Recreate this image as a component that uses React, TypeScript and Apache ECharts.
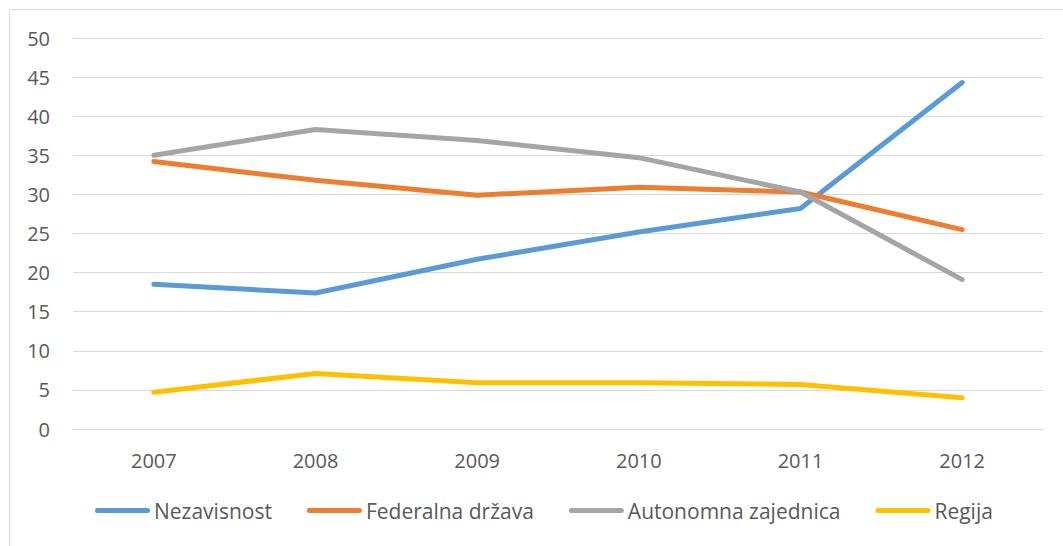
import React, { useEffect, useRef } from "react";
import * as echarts from "echarts";

const years = ["2007", "2008", "2009", "2010", "2011", "2012"];
const nezavisnost = [18.5, 17.4, 21.7, 25.2, 28.2, 44.3];
const federalna = [34.2, 31.8, 29.9, 30.9, 30.3, 25.5];
const autonomna = [35.0, 38.3, 36.9, 34.7, 30.3, 19.1];
const regija = [4.7, 7.1, 5.9, 5.9, 5.7, 4.0];

const seriesNames = ["Nezavisnost", "Federalna država", "Autonomna zajednica", "Regija"];
const colors = ["#5B9BD5", "#ED7D31", "#A5A5A5", "#FFC000"];

const legendIcon =
  "path://M2.5,0 H52.5 A2.5,2.5 0 0 1 52.5,5 H2.5 A2.5,2.5 0 0 1 2.5,0 Z";

export default function App() {
  const ref = useRef<HTMLDivElement>(null);
  useEffect(() => {
    if (!ref.current) return;
    const chart = echarts.init(ref.current, undefined, { renderer: "svg" });
    const font = "'Open Sans', 'Noto Sans', sans-serif";
    const data = [nezavisnost, federalna, autonomna, regija];
    chart.setOption({
      animation: false,
      backgroundColor: "#ffffff",
      textStyle: { fontFamily: font },
      graphic: [
        {
          type: "rect",
          shape: { x: 9.5, y: 9.5, width: 1100, height: 600 },
          style: { fill: "none", stroke: "#D9D9D9", lineWidth: 1 },
          silent: true,
        },
      ],
      grid: { left: 73, right: 20, top: 38, bottom: 117 },
      legend: {
        bottom: 20,
        left: 90,
        itemWidth: 55,
        itemHeight: 5,
        itemGap: 35,
        icon: legendIcon,
        textStyle: { color: "#595959", fontSize: 21, fontFamily: font, padding: [0, 0, 0, -1] },
        data: seriesNames,
      },
      xAxis: {
        type: "category",
        data: years,
        boundaryGap: true,
        axisLine: { show: true, lineStyle: { color: "#D9D9D9", width: 1 } },
        axisTick: { show: false },
        axisLabel: { color: "#595959", fontSize: 20, margin: 21, fontFamily: font },
        splitLine: { show: false },
      },
      yAxis: {
        type: "value",
        min: 0,
        max: 50,
        interval: 5,
        axisLine: { show: false },
        axisTick: { show: false },
        axisLabel: { color: "#595959", fontSize: 20, margin: 23, fontFamily: font },
        splitLine: { show: true, lineStyle: { color: "#D9D9D9", width: 1 } },
      },
      series: seriesNames.map((name, i) => ({
        name,
        type: "line",
        data: data[i],
        symbol: "none",
        showSymbol: false,
        color: colors[i],
        lineStyle: { color: colors[i], width: 5, cap: "round", join: "round" },
        itemStyle: { color: colors[i] },
      })),
    });
    return () => chart.dispose();
  }, []);
  return (
    <div
      ref={ref}
      style={{ position: "fixed", left: 0, top: 0, width: 1063, height: 546 }}
    />
  );
}
